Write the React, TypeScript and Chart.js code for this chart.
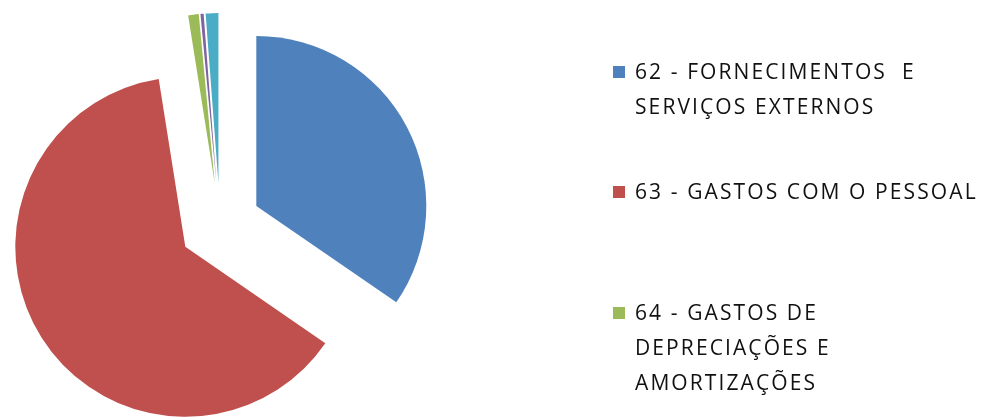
import React, { useEffect, useRef } from "react";
import { Chart, registerables } from "chart.js";

Chart.register(...registerables);

// ---- data ----
const categories: string[][] = [
  ["62 - FORNECIMENTOS  E", "SERVIÇOS EXTERNOS"],
  ["63 - GASTOS COM O PESSOAL"],
  ["64 - GASTOS DE", "DEPRECIAÇÕES E", "AMORTIZAÇÕES"],
  ["68 - OUTROS GASTOS E PERDAS"],
  ["69 - GASTOS E PERDAS DE FINANCIAMENTO"],
];
const values: number[] = [34.6, 62.9, 1.0, 0.3, 1.2];

// ---- styles ----
const colors = ["#4F81BD", "#C0504D", "#9BBB59", "#8064A2", "#4BACC6"];
const explodePx = [41, 41, 42, 42, 42];
const pieRadius = 170;
const legendVisibleCount = 3;
const legendTops = [54, 174, 295];

const W = 983;
const H = 417;

// Explode every slice (Excel style): move each arc outward along its mid-angle
// while keeping its full radius and angle.
const explodePlugin = {
  id: "explodeSlices",
  afterDatasetUpdate(chart: any, args: any) {
    const meta = chart.getDatasetMeta(args.index);
    meta.data.forEach((el: any, i: number) => {
      const mid = (el.startAngle + el.endAngle) / 2;
      const d = explodePx[i] || 0;
      el.x = el.x + Math.cos(mid) * d;
      el.y = el.y + Math.sin(mid) * d;
    });
  },
};

export default function App() {
  const canvasRef = useRef<HTMLCanvasElement | null>(null);

  useEffect(() => {
    if (!canvasRef.current) return;
    const chart = new Chart(canvasRef.current, {
      type: "pie",
      data: {
        labels: categories.map((c) => c.join(" ")),
        datasets: [
          {
            data: values,
            backgroundColor: colors,
            borderWidth: 0,
            offset: 0,
          } as any,
        ],
      },
      options: {
        responsive: false,
        animation: false,
        events: [],
        radius: pieRadius,
        layout: { padding: { top: 33, bottom: 0, left: 28, right: 571 } },
        plugins: {
          legend: { display: false },
          tooltip: { enabled: false },
          title: { display: false },
        },
      } as any,
      plugins: [explodePlugin],
    });
    return () => chart.destroy();
  }, []);

  return (
    <div
      style={{
        position: "fixed",
        left: 0,
        top: 0,
        width: W,
        height: H,
        background: "#ffffff",
        overflow: "hidden",
      }}
    >
      <canvas ref={canvasRef} width={W} height={H} style={{ position: "absolute", left: 0, top: 0 }} />
      {categories.slice(0, legendVisibleCount).map((lines, i) => (
        <div
          key={i}
          style={{
            position: "absolute",
            left: 613,
            top: legendTops[i],
            fontFamily: "'Open Sans', sans-serif",
            fontSize: 21,
            lineHeight: "35px",
            letterSpacing: 2.1,
            color: "#111111",
            whiteSpace: "pre",
          }}
        >
          <div
            style={{
              position: "absolute",
              left: 0,
              top: 12,
              width: 12,
              height: 12,
              background: colors[i],
            }}
          />
          <div style={{ marginLeft: 22 }}>
            {lines.map((l, j) => (
              <div key={j}>{l}</div>
            ))}
          </div>
        </div>
      ))}
    </div>
  );
}
